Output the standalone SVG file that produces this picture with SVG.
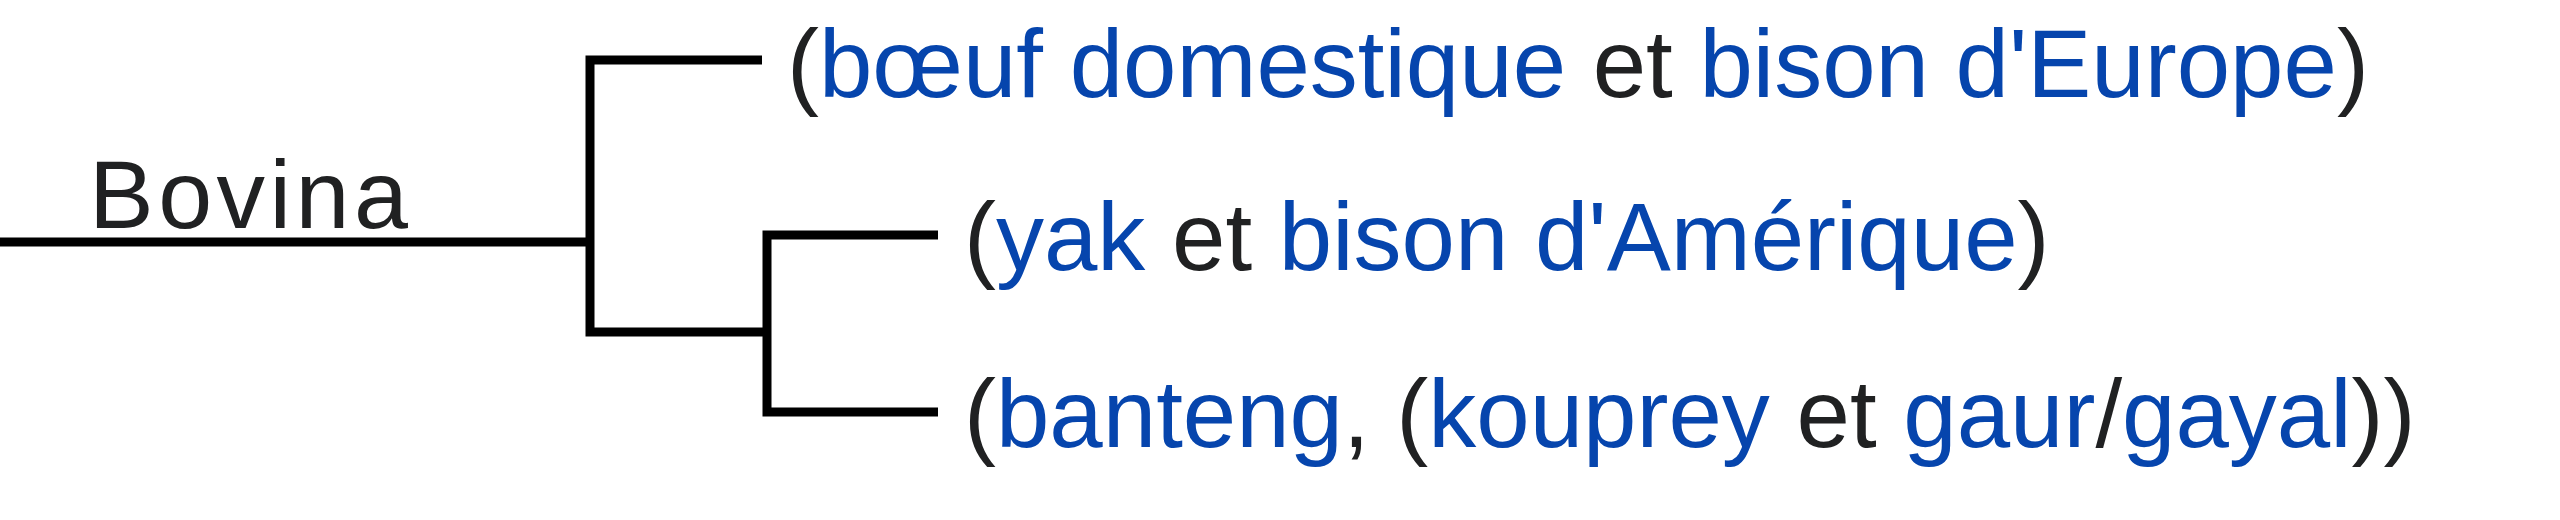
<svg xmlns="http://www.w3.org/2000/svg" width="2560" height="520" viewBox="0 0 2560 520">
  <style>
    .edge { fill: none; stroke: #000; stroke-width: 9; stroke-linejoin: miter; stroke-linecap: butt; }
    .lbl { font-family: "Liberation Sans", Arial, sans-serif; font-size: 96px; fill: #202122; }
    .link { fill: #0645ad; }
  </style>
  <rect width="2560" height="520" fill="#ffffff"/>
  <g id="connectors">
    <path class="edge" d="M0 242 H590"/>
    <path class="edge" d="M762 60 H590 V332 H767"/>
    <path class="edge" d="M938 235 H767 V412 H938"/>
  </g>
  <g id="node-bovina">
    <text class="lbl" x="89" y="228" textLength="319" lengthAdjust="spacing" style="font-size:97px">Bovina</text>
  </g>
  <g id="node-boeuf-bison-europe">
    <text class="lbl" x="787" y="97">(<tspan class="link">bœuf domestique</tspan> et <tspan class="link">bison d'Europe</tspan>)</text>
  </g>
  <g id="node-yak-bison-amerique">
    <text class="lbl" x="964" y="270">(<tspan class="link">yak</tspan> et <tspan class="link">bison d'Amérique</tspan>)</text>
  </g>
  <g id="node-banteng-kouprey-gaur">
    <text class="lbl" x="964" y="447">(<tspan class="link">banteng</tspan>, (<tspan class="link">kouprey</tspan> et <tspan class="link">gaur</tspan>/<tspan class="link">gayal</tspan>))</text>
  </g>
</svg>
